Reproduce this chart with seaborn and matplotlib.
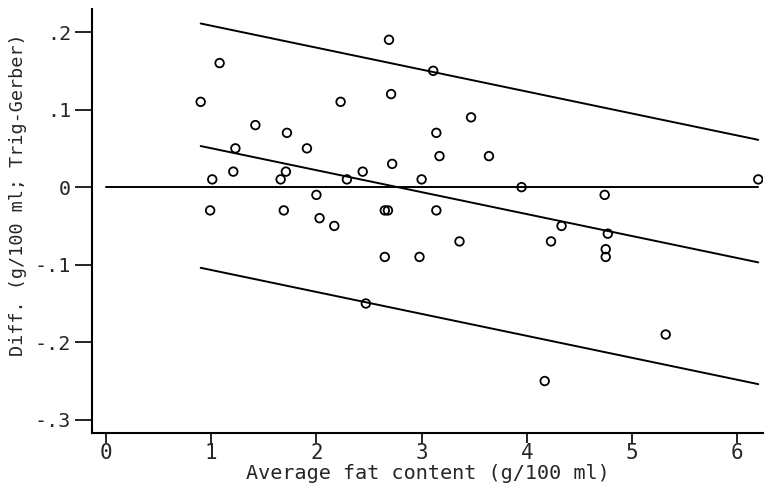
import matplotlib
matplotlib.use("Agg")
import matplotlib.pyplot as plt
import seaborn as sns
import pandas as pd

# Data
avg_fat = [0.90, 1.08, 0.99, 1.01, 1.21, 1.23, 1.42, 1.66, 1.69, 1.71, 1.72,
           1.91, 2.00, 2.03, 2.17, 2.23, 2.29, 2.44, 2.65, 2.68, 2.69, 2.71,
           2.72, 3.00, 3.11, 3.14, 3.14, 3.17, 3.36, 3.47, 3.64, 3.95, 4.74,
           4.33, 4.77, 4.23, 6.20, 2.65, 2.98, 2.47, 4.75, 4.75, 5.32, 4.17]
diff = [0.11, 0.16, -0.03, 0.01, 0.02, 0.05, 0.08, 0.01, -0.03, 0.02, 0.07,
        0.05, -0.01, -0.04, -0.05, 0.11, 0.01, 0.02, -0.03, -0.03, 0.19, 0.12,
        0.03, 0.01, 0.15, -0.03, 0.07, 0.04, -0.07, 0.09, 0.04, 0.00, -0.01,
        -0.05, -0.06, -0.07, 0.01, -0.09, -0.09, -0.15, -0.08, -0.09, -0.19, -0.25]

fit_x = [0.90, 6.20]
fit_mean = [0.053, -0.097]
fit_upper = [0.211, 0.061]
fit_lower = [-0.104, -0.254]
zero_x = [0.0, 6.20]
zero_y = [0.0, 0.0]

x_ticks = [0, 1, 2, 3, 4, 5, 6]
y_ticks = [-0.3, -0.2, -0.1, 0.0, 0.1, 0.2]
y_tick_labels = ["-.3", "-.2", "-.1", "0", ".1", ".2"]

sns.set_style("ticks")
plt.rcParams['font.family'] = ['DejaVu Sans Mono', 'DejaVu Sans']

fig = plt.figure(figsize=(7.66, 4.90), dpi=100)
ax = fig.add_axes([92 / 766, 1 - 433 / 490, (763 - 92) / 766, (433 - 9) / 490])

df = pd.DataFrame({"x": avg_fat, "y": diff})

for ys in (fit_upper, fit_mean, fit_lower):
    sns.lineplot(x=fit_x, y=ys, ax=ax, color="black", linewidth=1.4)
sns.lineplot(x=zero_x, y=zero_y, ax=ax, color="black", linewidth=1.4)

sns.scatterplot(data=df, x="x", y="y", ax=ax, marker="o", s=38,
                facecolors="none", edgecolors="black", linewidth=1.3, zorder=3)

ax.set_xlim(-0.133, 6.245)
ax.set_ylim(-0.317, 0.2297)
ax.set_xticks(x_ticks)
ax.set_xticklabels([str(t) for t in x_ticks], fontsize=15)
ax.set_yticks(y_ticks)
ax.set_yticklabels(y_tick_labels, fontsize=14.5)

ax.tick_params(axis="y", length=12, width=1.2, pad=3, color="black")
ax.tick_params(axis="x", length=7, width=1.2, pad=0, color="black")

for side in ("top", "right"):
    ax.spines[side].set_visible(False)
for side in ("left", "bottom"):
    ax.spines[side].set_linewidth(1.5)
    ax.spines[side].set_color("black")

ax.set_xlabel("Average fat content (g/100 ml)", fontsize=14.5, labelpad=1)
ax.set_ylabel("Diff. (g/100 ml; Trig-Gerber)", fontsize=13.3)
ax.yaxis.set_label_coords(-0.097, 0.5625)

fig.savefig("out.png", dpi=100)
